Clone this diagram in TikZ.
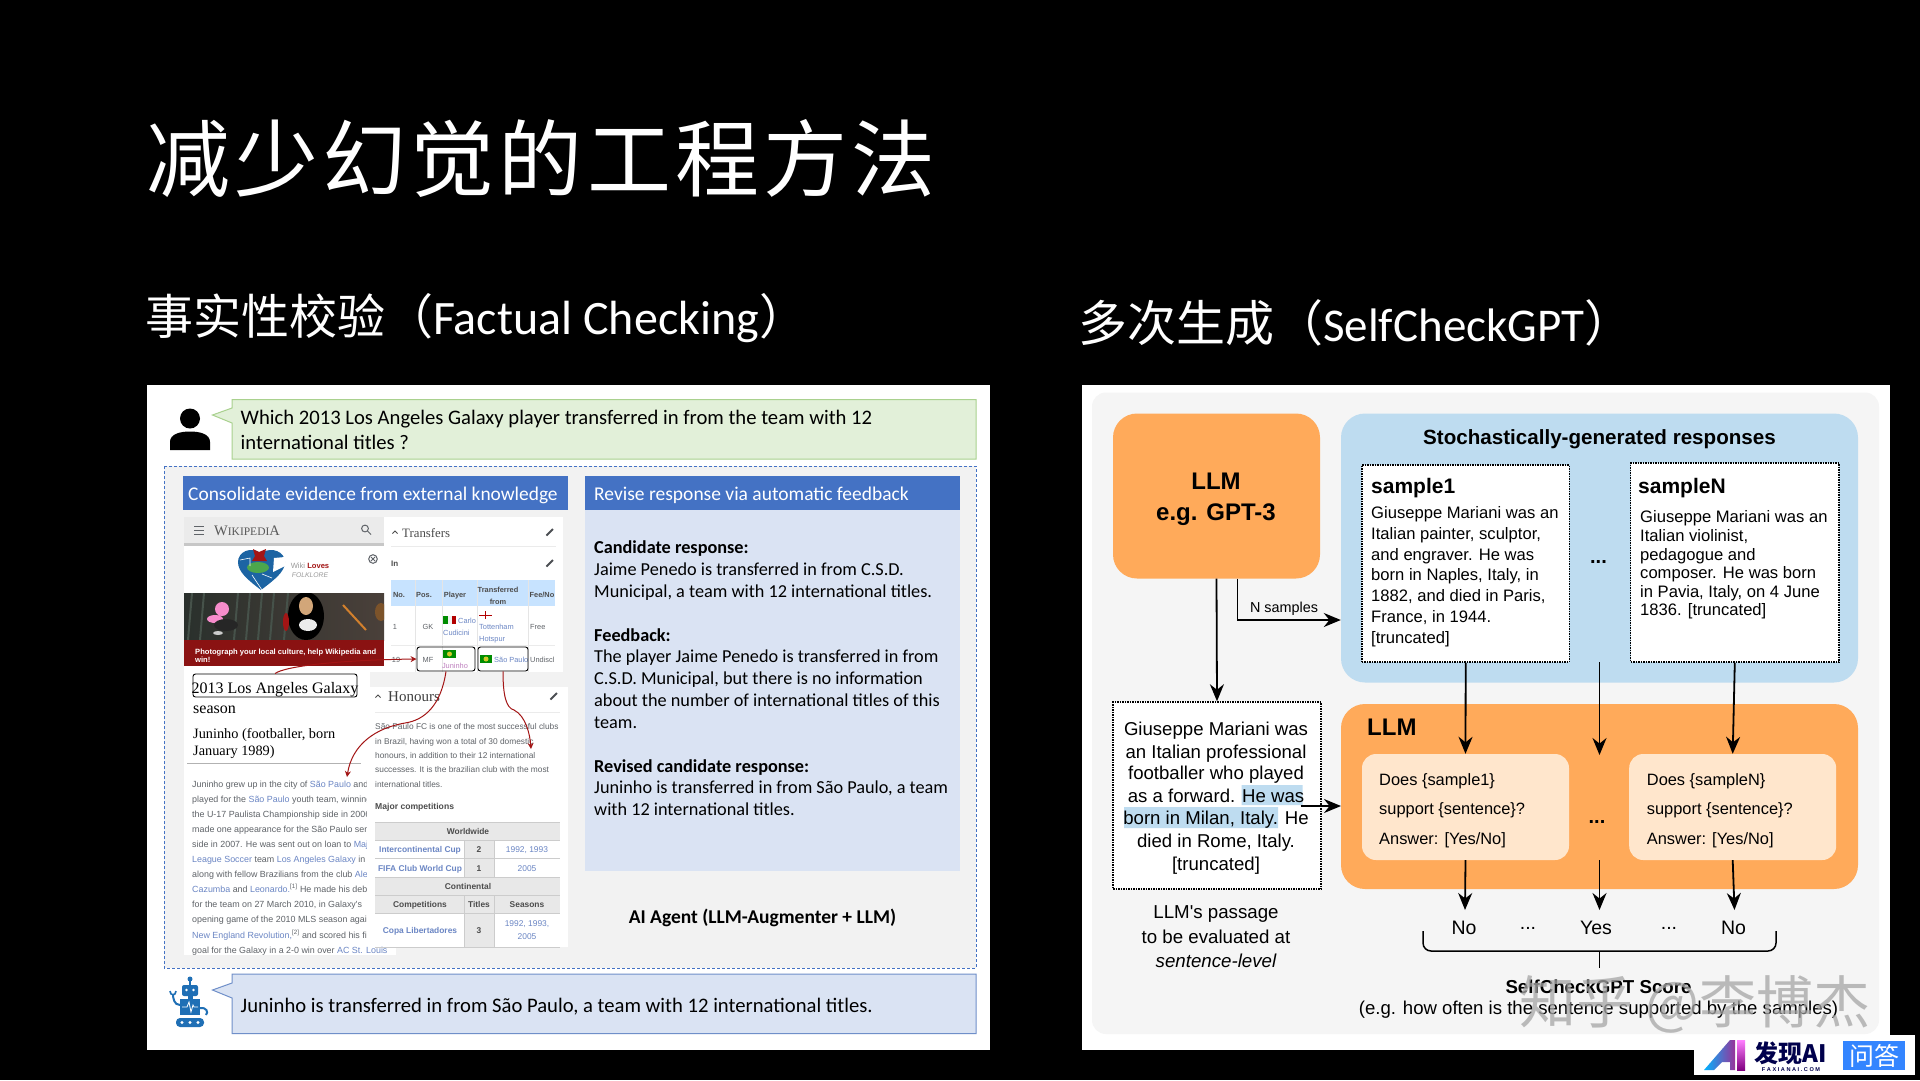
\documentclass[tikz,border=0pt]{standalone}
\usepackage{fontspec}
\usepackage{xcolor}
\usetikzlibrary{arrows.meta,shapes.geometric}
\setmainfont{Carlito}
\newfontfamily\cjk{Noto Sans CJK SC}
\newfontfamily\cjkbig[LetterSpace=5]{Noto Sans CJK SC}
\newfontfamily\arial{Liberation Sans}
\newfontfamily\wikiserif{Liberation Serif}
\newcommand{\fs}[1]{\fontsize{#1}{#1}\selectfont}
\newcommand{\lk}[1]{\textcolor{wikiblue}{#1}}
\definecolor{wikiblue}{HTML}{6B86C4}
\definecolor{wikigray}{HTML}{5F6368}
\definecolor{greenfill}{HTML}{E2F0D9}
\definecolor{greenline}{HTML}{A9D18E}
\definecolor{bluefill}{HTML}{DAE3F3}
\definecolor{blueline}{HTML}{6F8FC9}
\definecolor{headblue}{HTML}{4472C4}
\definecolor{arrowred}{HTML}{A31515}
\definecolor{llmorange}{HTML}{FFAA5A}
\definecolor{skyfill}{HTML}{BEDCF0}
\definecolor{peach}{HTML}{FFE6CC}
\definecolor{robotblue}{HTML}{1F6FB5}
\definecolor{photodark}{HTML}{2A302C}
\definecolor{photostreak}{HTML}{46524A}
\definecolor{photoright}{HTML}{4A403A}
\tikzset{
  line/.style = {inner sep=0pt, anchor=mid west},
  cline/.style = {inner sep=0pt, anchor=mid},
  carl/.style = {font=\fs{#1}, yshift={-(0.3pt*#1-1pt)}},
  carlb/.style = {font=\fs{#1}\bfseries, yshift={-(0.3pt*#1-1pt)}},
  ar/.style = {font=\arial\fs{#1}, yshift={-(0.3pt*#1-1pt)}},
  arb/.style = {font=\arial\fs{#1}\bfseries, yshift={-(0.3pt*#1-1pt)}},
  ser/.style = {font=\wikiserif\fs{#1}, yshift={-(0.3pt*#1-1pt)}},
  resp/.style = {line, carl=18.25},
  respb/.style = {line, carlb=18.25},
  wikibody/.style = {line, text=wikigray, ar=8.9},
  honbody/.style = {line, text=wikigray, ar=8.35},
  tab/.style = {cline, text=wikigray, ar=7.4},
  tabl/.style = {line, text=wikigray, ar=7.4},
  tabb/.style = {cline, text=black!70, arb=7.4},
  hon/.style = {cline, text=black!70, arb=8.4},
  honl/.style = {cline, text=wikiblue, arb=8.4},
  yrs/.style = {cline, text=wikiblue, ar=8.4},
  redbox/.style = {draw=black, line width=.9pt, rounded corners=2.5pt, inner sep=0pt},
  redarrow/.style = {draw=arrowred, line width=1pt, -{Stealth[length=6pt,width=6pt]}},
  orange/.style = {fill=llmorange, rounded corners=24pt, inner sep=0pt},
  sky/.style = {fill=skyfill, rounded corners=24pt, inner sep=0pt},
  dots/.style = {draw=black, line width=1.5pt, densely dotted, fill=white, inner sep=0pt},
  asks/.style = {fill=peach, rounded corners=14pt, inner sep=0pt, minimum width=207pt, minimum height=106pt},
  sent/.style = {line, ar=16.6},
  flow/.style = {line width=1.8pt, -{Stealth[length=17pt,width=14pt]}},
  ans/.style = {cline, ar=19.5},
  pencil/.pic = {\draw[wikigray!80!black, line width=2pt] (-3.5,3.5) -- (3,-3);},
  chev/.pic = {\draw[black!70, line width=.9pt] (-2.5,1.5) -- (0,-1) -- (2.5,1.5);}
}
\begin{document}
\begin{tikzpicture}[x=1pt, y=-1pt]
  \useasboundingbox (0,0) rectangle (1920,1080);
  \fill[black] (0,0) rectangle (1920,1080);

  % titles
  \node[line, white, font=\cjkbig\fs{84}] (title) at (146,188.5) {减少幻觉的工程方法};
  \node[line, white, font=\fs{48}] (subleft) at (145,332.5) {{\cjk 事实性校验（}{\fs{48}Factual Checking}{\cjk ）}};
  \node[line, white, font=\fs{49}] (subright) at (1078,339) {{\cjk 多次生成（}{\fs{47}SelfCheckGPT}{\cjk ）}};

  % left panel
  \fill[white] (147,385) rectangle (990,1050);
  \draw[fill=greenfill, draw=greenline, line width=1pt]
    (232,399.5) -- (976,399.5) -- (976,459) -- (232,459) -- (232,423) -- (212.5,415) -- (232,408) -- cycle;
  \node[line, carl=20.65] (q1) at (240.5,417) {Which 2013 Los Angeles Galaxy player transferred in from the team with 12};
  \node[line, carl=20.65] (q2) at (240.5,441.5) {international titles ?};
  % person
  \fill[black] (190,418.5) circle (10);
  \fill[black] (170,450) -- (170,442) .. controls (170,434) and (180,431.5) .. (190,431.5)
    .. controls (200,431.5) and (210,434) .. (210,442) -- (210,450) -- cycle;

  \fill[black!5] (164,466) rectangle (976,968);
  \draw[headblue, densely dashed, line width=.8pt] (164,466) rectangle (976,968);
  \fill[headblue] (183,476) rectangle (568,510);
  \fill[headblue] (585,476) rectangle (960,510);
  \fill[bluefill] (585,510) rectangle (960,871);
  \node[line, white, carl=19.4] (headl) at (188,493.5) {Consolidate evidence from external knowledge};
  \node[line, white, carl=19.5] (headr) at (594,493.5) {Revise response via automatic feedback};

  % response text
  \foreach \y/\t [count=\i] in {569/{Jaime Penedo is transferred in from C.S.D.},591/{Municipal, a team with 12 international titles.},
      656/{The player Jaime Penedo is transferred in from},678/{C.S.D. Municipal, but there is no information},
      700/{about the number of international titles of this},722/{team.},
      787/{Juninho is transferred in from São Paulo, a team},809/{with 12 international titles.}}
    \node[resp] (resp\i) at (594,\y) {\t};
  \foreach \y/\t [count=\i] in {547/{Candidate response:},634.5/{Feedback:},765.5/{Revised candidate response:}}
    \node[respb] (bold\i) at (594,\y) {\t};
  \node[cline, carlb=19.5] (agent) at (762.5,916) {AI Agent (LLM-Augmenter + LLM)};

  % answer and robot
  \draw[fill=bluefill, draw=blueline, line width=1pt]
    (232,974) -- (976,974) -- (976,1033.5) -- (232,1033.5) -- (232,998) -- (212.5,990) -- (232,983) -- cycle;
  \node[line, carl=20.65] (answer) at (240.5,1005) {Juninho is transferred in from São Paulo, a team with 12 international titles.};
  \fill[robotblue] (190,979) circle (2.5);
  \draw[robotblue, line width=1.5pt] (190,979) -- (190,986);
  \fill[robotblue, rounded corners=2pt] (182,985) rectangle (198,996);
  \fill[white] (186.5,990) circle (1.3) (193.5,990) circle (1.3);
  \fill[robotblue] (187.5,996) rectangle (192.5,1000);
  \fill[robotblue] (180,999) rectangle (200,1015);
  \draw[white, line width=.8pt] (182,1007) -- (187,1007) -- (189,1002) -- (191,1012) -- (193,1005) -- (194,1007) -- (198,1007);
  \draw[robotblue, line width=2pt] (180,1005) .. controls (174,1005) and (173,998) .. (173,994);
  \draw[robotblue, line width=1.6pt] (170,991) .. controls (170,996) and (176,996) .. (176,991);
  \draw[robotblue, line width=2pt] (200,1008) .. controls (206,1007) and (209,1012) .. (206,1015);
  \fill[robotblue, rounded corners=4pt] (176,1018) rectangle (204,1027);
  \foreach \x in {182,190,198}
    \fill[white] (\x,1022.5) circle (1.6);

  % wikipedia page
  \fill[white] (184,517) rectangle (384,672);
  \fill[white] (384,517) rectangle (563,672);
  \fill[white] (184,666) rectangle (370,955);
  \fill[white] (370,940) rectangle (396,955);
  \fill[white] (370,687) rectangle (568,947);
  \fill[black!8] (184,517) rectangle (384,543);
  \fill[black!22] (184,543) rectangle (384,546);
  \foreach \y in {526,530,534}
    \draw[wikigray, line width=1pt] (194,\y) -- (204,\y);
  \node[line, text=black!65, ser=14.5] (wikilogo) at (214,530) {W{\fs{11.5}IKIPEDI}A};
  \draw[wikigray, line width=1pt] (365,528.5) circle (3.4) (367.5,531) -- (371,534.5);
  \draw[wikigray, line width=1pt] (373,559) circle (4.3) (371,557) -- (375,561) (375,557) -- (371,561);

  % heart
  \fill[robotblue!90!black] (261,590) .. controls (248,580) and (238,572) .. (238,562)
    .. controls (238,552) and (250,546) .. (261,553) .. controls (272,546) and (285,552) .. (285,562)
    .. controls (285,572) and (274,580) .. (261,590) -- cycle;
  \fill[white] (273,572) -- (285,566) -- (285,557) -- (274,558) -- cycle;
  \fill[arrowred] (253,549) -- (259,552) -- (266,549) -- (264,556) -- (267,561) -- (252,561) -- (255,556) -- cycle;
  \fill[green!50!black!70!white] (258,567.5) ellipse (11 and 5.5);
  \draw[white, line width=.6pt] (240,560) -- (250,558) -- (250,566) (252,575) -- (262,590) (262,574) -- (272,578);
  \node[cline, text=black!40, ar=7.6] (loves) at (310,565) {Wiki \textcolor{arrowred}{\bfseries Loves}};
  \node[cline, text=black!40, font=\arial\itshape\fs{6.8}, yshift=-1pt] (folk) at (310,574) {FOLKLORE};

  % photo
  \begin{scope}
    \clip (184,593) rectangle (384,640);
    \shade[left color=photodark, right color=photoright] (184,593) rectangle (384,640);
    \foreach \x in {192,204,238,250,262,274,288}
      \draw[photostreak, line width=2pt] (\x,593) -- (\x-4,640);
    \fill[magenta!45!white] (222,609) ellipse (7 and 7) (215,619) ellipse (8 and 4);
    \fill[black!85] (226,625) ellipse (12 and 6);
    \fill[white!80!black] (218,633) ellipse (5 and 2);
    \fill[black] (306,616) ellipse (18 and 24);
    \fill[brown!70!white] (306,606) ellipse (7 and 9);
    \fill[white!92!black] (308,625) ellipse (9 and 6);
    \fill[arrowred] (286,622) ellipse (3 and 9);
    \draw[brown!70!orange, line width=2pt] (343,605) -- (366,630);
    \fill[brown!65!black] (381,612) ellipse (6 and 9);
  \end{scope}
  \fill[arrowred!85!black] (184,640) rectangle (384,666);
  \node[line, white, arb=7.6] (ban1) at (195,650.5) {Photograph your local culture, help Wikipedia and};
  \node[line, white, arb=7.6] (ban2) at (195,658.5) {win!};

  % transfers table
  \pic at (395,532) {chev};
  \node[line, text=black!70, ser=12.8] (transfers) at (402,532) {Transfers};
  \pic at (550,532) {pencil};
  \draw[black!8] (391,546) -- (556,546);
  \node[line, text=black!70, arb=8] (inlabel) at (391,563) {In};
  \pic at (550,563) {pencil};
  \fill[blue!50!cyan!22!white] (391,580) rectangle (555,606);
  \foreach \x in {415,442,477,528}
    \draw[black!10] (\x,580) -- (\x,672);
  \draw[black!8] (391,645) -- (555,645);
  \foreach \x/\t [count=\i] in {399/{No.},424/{Pos.},455/{Player},542/{Fee/No}}
    \node[tabb] (head\i) at (\x,594) {\t};
  \node[tabb] (headtf) at (498,589) {Transferred};
  \node[tabb] (headfr) at (498,600.5) {from};
  \node[tab] (rowa) at (395,626) {1};
  \node[tab] (rowb) at (428,626) {GK};
  \node[tabl] (rowc) at (458,620) {\lk{Carlo}};
  \node[tabl] (rowd) at (443,632) {\lk{Cudicini}};
  \node[tabl] (rowe) at (479,626) {\lk{Tottenham}};
  \node[tabl] (rowf) at (479,638) {\lk{Hotspur}};
  \node[tabl] (rowg) at (530,626) {Free};
  \node[tab] (rowh) at (396,659) {19};
  \node[tab] (rowi) at (428,659) {MF};
  \node[tab] (rowj) at (455,665) {\textcolor{violet!50!white}{Juninho}};
  \node[tabl] (rowk) at (494,659) {\lk{São Paulo}};
  \node[tabl] (rowl) at (530,659) {Undiscl};
  \fill[green!55!black] (443,616) rectangle (447.5,624);
  \fill[black!5] (447.5,616) rectangle (451.5,624);
  \fill[red!70!black] (451.5,616) rectangle (456,624);
  \draw[red!70!black, line width=1pt] (479,615) -- (492,615) (485.5,611) -- (485.5,619);
  \fill[green!55!black] (443,650) rectangle (456,658);
  \fill[yellow!80!black] (449.5,654) circle (2.5);
  \fill[green!55!black] (480,655) rectangle (492,663);
  \fill[yellow!80!black] (486,659) circle (2.5);
  \node[redbox, minimum width=58pt, minimum height=24pt] (mfbox) at (446,659) {};
  \node[redbox, minimum width=50pt, minimum height=24pt] (spbox) at (503,659) {};

  % article on the left
  \node[redbox, minimum width=164pt, minimum height=23pt] (galaxybox) at (275,685.5) {};
  \node[cline, ser=16] (galaxy) at (275,687) {2013 Los Angeles Galaxy};
  \node[line, ser=16] (season) at (193,707) {season};
  \node[line, ser=14.3] (jun1) at (193,733) {Juninho (footballer, born};
  \node[line, ser=14.3] (jun2) at (193,749.5) {January 1989)};
  \draw[black!30] (187,763) -- (361,763);
  \begin{scope}
    \clip (184,770) rectangle (366,955);
    \foreach \t [count=\i, evaluate=\i as \y using 783+(\i-1)*15.1] in {
        {Juninho grew up in the city of \lk{São Paulo} and},
        {played for the \lk{São Paulo} youth team, winning},
        {the U-17 Paulista Championship side in 2006},
        {made one appearance for the São Paulo senior},
        {side in 2007. He was sent out on loan to \lk{Major}},
        {\lk{League Soccer} team \lk{Los Angeles Galaxy} in 2010},
        {along with fellow Brazilians from the club \lk{Alex}},
        {\lk{Cazumba} and \lk{Leonardo.}\textsuperscript{[1]} He made his debut},
        {for the team on 27 March 2010, in Galaxy's},
        {opening game of the 2010 MLS season against},
        {\lk{New England Revolution,}\textsuperscript{[2]} and scored his first}}
      \node[wikibody] (body\i) at (192,\y) {\t};
  \end{scope}
  \node[wikibody] (bodylast) at (192,949) {goal for the Galaxy in a 2-0 win over \lk{AC St. Louis}};

  % honours
  \pic at (378,696) {chev};
  \node[line, text=black!75, ser=15] (honours) at (388,696) {Honours};
  \pic at (554,696) {pencil};
  \draw[black!8] (375,712) -- (560,712);
  \foreach \y/\t [count=\i] in {726/{São Paulo FC is one of the most successful clubs},740.3/{in Brazil, having won a total of 30 domestic},
      754.7/{honours, in addition to their 12 international},769/{successes. It is the brazilian club with the most},783.3/{international titles.}}
    \node[honbody] (hon\i) at (375,\y) {\t};
  \node[line, text=black!70, arb=8.6] (major) at (375,806) {Major competitions};
  \fill[black!9] (375,822) rectangle (560,840);
  \fill[black!9] (375,877) rectangle (560,913);
  \fill[black!9] (464,840) rectangle (494,877);
  \fill[black!9] (464,913) rectangle (494,947);
  \foreach \y in {822,840,858,877,895,913,947}
    \draw[black!20] (375,\y) -- (560,\y);
  \draw[black!20] (464,840) -- (464,877) (494,840) -- (494,877) (464,895) -- (464,947) (494,895) -- (494,947);
  \node[hon] (world) at (468,831) {Worldwide};
  \node[honl] (intercup) at (420,849) {Intercontinental Cup};
  \node[hon] (two) at (479,849) {2};
  \node[yrs] (y1) at (527,849) {1992, 1993};
  \node[honl] (fifacup) at (420,867.5) {FIFA Club World Cup};
  \node[hon] (one) at (479,867.5) {1};
  \node[yrs] (y2) at (527,867.5) {2005};
  \node[hon] (conti) at (468,886) {Continental};
  \node[hon] (comp) at (420,904) {Competitions};
  \node[hon] (titles) at (479,904) {Titles};
  \node[hon] (seasons) at (527,904) {Seasons};
  \node[honl] (copa) at (420,930) {Copa Libertadores};
  \node[hon] (three) at (479,930) {3};
  \node[yrs] (y3) at (527,923) {1992, 1993,};
  \node[yrs] (y4) at (527,936) {2005};

  % red arrows
  \coordinate (saolink) at (347,777);
  \coordinate (domestic) at (531,749);
  \draw[redarrow] (galaxybox.north) .. controls (285,666) and (340,660) .. (mfbox.west);
  \draw[redarrow] (mfbox.south) .. controls (441,705) and (425,720) .. (405,723) .. controls (375,728) and (352,745) .. (saolink);
  \draw[redarrow] (spbox.south) .. controls (503,695) and (506,708) .. (514,710) .. controls (526,716) and (530,735) .. (domestic);

  % right panel
  \fill[white] (1082,385) rectangle (1890,1050);
  \fill[black!4, rounded corners=14pt] (1092,392.5) rectangle (1879,1034);
  \node[orange, minimum width=207pt, minimum height=165pt] (llm) at (1216.5,496) {};
  \node[cline, arb=24] (llma) at (1216,480.5) {LLM};
  \node[cline, arb=24] (llmb) at (1216,512) {e.g. GPT-3};
  \node[sky, minimum width=517pt, minimum height=269pt] (resps) at (1599.5,548) {};
  \node[cline, arb=20.6] (respt) at (1599.5,437) {Stochastically-generated responses};
  \node[dots, minimum width=207.5pt, minimum height=197pt] (sample1) at (1465.7,563.5) {};
  \node[dots, minimum width=208.5pt, minimum height=199pt] (sampleN) at (1734.8,562.5) {};
  \node[line, arb=21] (s1head) at (1371,486) {sample1};
  \node[line, arb=21] (sNhead) at (1638,486) {sampleN};
  \foreach \y/\t [count=\i] in {512.6/{Giuseppe Mariani was an},533.6/{Italian painter, sculptor,},553.7/{and engraver. He was},
      574.6/{born in Naples, Italy, in},595/{1882, and died in Paris,},615.7/{France, in 1944.},636.7/{[truncated]}}
    \node[sent] (sa\i) at (1371,\y) {\t};
  \foreach \y/\t [count=\i] in {516/{Giuseppe Mariani was an},535/{Italian violinist,},553.7/{pedagogue and},
      572.4/{composer. He was born},591/{in Pavia, Italy, on 4 June},609.5/{1836. [truncated]}}
    \node[sent] (sb\i) at (1640,\y) {\t};
  \node[cline, font=\arial\fs{20}\bfseries] (dotsa) at (1598.5,561.5) {...};

  \node[dots, minimum width=208pt, minimum height=187pt] (passage) at (1217,795.5) {};
  \fill[skyfill] (1241.5,785) rectangle (1302.5,805) (1124,807) rectangle (1278,828);
  \foreach \y/\t [count=\i] in {729/{Giuseppe Mariani was},752/{an Italian professional},773/{footballer who played},
      795.6/{as a forward. He was},818/{born in Milan, Italy. He},841/{died in Rome, Italy.},863.5/{[truncated]}}
    \node[cline, ar=18.6] (pa\i) at (1216,\y) {\t};
  \foreach \y/\t [count=\i] in {911/{LLM's passage},936/{to be evaluated at},960/{\itshape sentence-level}}
    \node[cline, ar=18.7] (cap\i) at (1216,\y) {\t};

  \node[orange, minimum width=517pt, minimum height=185pt] (llmbox) at (1599.5,796.5) {};
  \node[line, arb=24] (llmc) at (1367,726.5) {LLM};
  \node[asks] (q1box) at (1465.5,807) {};
  \node[asks] (qNbox) at (1732.7,807) {};
  \foreach \x/\s/\n in {1379/sample1/a,1646.7/sampleN/b}{
    \node[line, ar=16.4] (q\n1) at (\x,778.7) {Does \{\s\}};
    \node[line, ar=16.4] (q\n2) at (\x,808.6) {support \{sentence\}?};
    \node[line, ar=16.4] (q\n3) at (\x,838.5) {Answer: [Yes/No]};
  }
  \node[cline, font=\arial\fs{20}\bfseries] (dotsb) at (1597,821) {...};

  % flow arrows
  \coordinate (midtop) at (1599.5,662);
  \coordinate (midask) at (1599.5,755);
  \coordinate (midlow) at (1599.5,860);
  \coordinate (feedin) at (1300.7,806);
  \coordinate (feedout) at (1341,806);
  \draw[flow] (llm.south) -- (passage.north);
  \draw[flow] (1237.5,578.5) |- (resps.west |- 0,620);
  \node[cline, ar=14.4] (nsamples) at (1284,607) {N samples};
  \draw[flow] (feedin) -- (feedout);
  \draw[flow] (sample1.south) -- (q1box.north);
  \draw[flow] (midtop) -- (midask);
  \draw[flow] (sampleN.south) -- (qNbox.north);
  \node[ans] (no1) at (1464,927) {No};
  \node[ans] (dots1) at (1528,922) {...};
  \node[ans] (yes) at (1596,927) {Yes};
  \node[ans] (dots2) at (1669,922) {...};
  \node[ans] (no2) at (1733.5,927) {No};
  \draw[flow] (q1box.south) -- (1465,910);
  \draw[flow] (midlow) -- (1599.5,910);
  \draw[flow] (qNbox.south) -- (1734.5,910);

  % brace
  \coordinate (bracel) at (1423,931);
  \coordinate (bracer) at (1776,931);
  \coordinate (bracem) at (1599.5,968);
  \draw[line width=1.5pt, rounded corners=8pt] (bracel) -- (1423,951) -- (1599.5,951) -- (1776,951) -- (bracer);
  \draw[line width=1.5pt] (1599.5,951) -- (bracem);

  \node[cline, arb=18.7] (score) at (1598.5,986) {SelfCheckGPT Score};
  \node[cline, ar=18.6] (scoreb) at (1598.5,1008) {(e.g. how often is the sentence supported by the samples)};

  % watermark and logo
  \node[cline, text=black!35, opacity=.75, font=\cjk\fs{57}] (mark) at (1695,1021) {知乎 @李博杰};
  \fill[white] (1694,1035) rectangle (1915,1075);
  \shade[left color=cyan!70!blue, right color=violet!80!white] (1730,1040) -- (1704,1070) -- (1714,1070) -- (1722,1062) -- (1730,1062) -- (1730,1070) -- (1735,1070) -- (1735,1040) -- cycle;
  \shade[top color=magenta!50!white, bottom color=violet] (1737,1040) rectangle (1745,1070);
  \node[cline, text=blue!30!black, font=\cjk\fs{24}\bfseries] (faxian) at (1791,1060.5) {发现AI};
  \node[cline, text=blue!30!black, arb=5.6] (faxianurl) at (1791,1068) {F A X I A N A I . C O M};
  \node[inner sep=0pt, fill=blue!60!cyan!80!white, text=white, font=\cjk\fs{25}, minimum width=62pt, minimum height=29pt] (wenda) at (1874,1055.5) {问答};
\end{tikzpicture}
\end{document}
